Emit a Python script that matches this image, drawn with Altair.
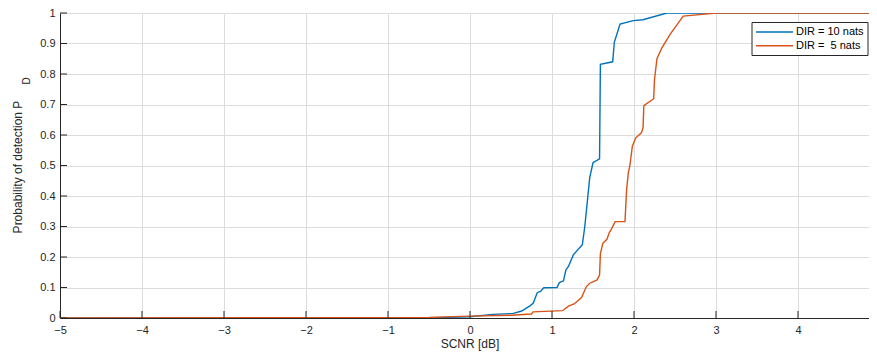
import altair as alt
import pandas as pd

# ---- data ----
blue_x = [-5, -0.6, -0.3, 0, 0.28, 0.53, 0.63, 0.73, 0.77, 0.82, 0.86, 0.90, 1.06, 1.09, 1.14,
          1.17, 1.20, 1.26, 1.37, 1.40, 1.46, 1.50, 1.58, 1.59, 1.74, 1.76, 1.83, 1.99, 2.11,
          2.40, 4.95]
blue_y = [0, 0, 0.002, 0.004, 0.012, 0.015, 0.023, 0.04, 0.048, 0.083, 0.087, 0.099, 0.10, 0.116,
          0.122, 0.158, 0.169, 0.207, 0.24, 0.30, 0.46, 0.509, 0.522, 0.832, 0.84, 0.904, 0.964,
          0.975, 0.978, 1.0, 1.0]

red_x = [-5, -0.5, 0, 0.5, 0.75, 0.77, 1.13, 1.20, 1.27, 1.36, 1.42, 1.46, 1.55, 1.58, 1.59,
         1.62, 1.67, 1.70, 1.72, 1.77, 1.89, 1.91, 1.93, 1.95, 1.98, 2.02, 2.09, 2.11, 2.12,
         2.24, 2.25, 2.28, 2.34, 2.44, 2.60, 2.97, 3.0, 4.95]
red_y = [0, 0.002, 0.006, 0.009, 0.013, 0.02, 0.024, 0.039, 0.046, 0.067, 0.103, 0.114, 0.125,
         0.141, 0.21, 0.245, 0.258, 0.281, 0.289, 0.316, 0.316, 0.42, 0.475, 0.50, 0.563, 0.59,
         0.607, 0.623, 0.696, 0.719, 0.782, 0.85, 0.886, 0.93, 0.99, 0.999, 1.0, 1.0]

x_ticks = [-5, -4, -3, -2, -1, 0, 1, 2, 3, 4]
y_ticks = [0, 0.1, 0.2, 0.3, 0.4, 0.5, 0.6, 0.7, 0.8, 0.9, 1.0]
series_names = ["DIR = 10 nats", "DIR =  5 nats"]
series_colors = ["#0072BD", "#D95319"]

PX_PER_UNIT = 82
W, H = 809, 305
X_MAX = -5 + W / PX_PER_UNIT
FONT = "Liberation Sans"
TXT = "#262626"

blue = pd.DataFrame({"x": blue_x, "y": blue_y})
red = pd.DataFrame({"x": red_x, "y": red_y})

xs = alt.Scale(domain=[-5, X_MAX], nice=False, zero=False)
ys = alt.Scale(domain=[0, 1], nice=False)

xaxis = alt.Axis(values=x_ticks, format="d", title=None, grid=True, ticks=False,
                 labelPadding=6, labelFontSize=11, labelFont=FONT, labelColor=TXT,
                 domainColor=TXT, gridColor="#dcdcdc", labelFlush=False, labelOverlap=False)
yaxis = alt.Axis(values=y_ticks, format="~g", title=None, grid=True, ticks=False,
                 labelPadding=5, labelFontSize=11, labelFont=FONT, labelColor=TXT,
                 domainColor=TXT, gridColor="#dcdcdc", labelFlush=False, labelOverlap=False)


def X(field):
    return alt.X(field, type="quantitative", scale=xs, axis=xaxis)


def Y(field):
    return alt.Y(field, type="quantitative", scale=ys, axis=yaxis)


xt = alt.Chart(pd.DataFrame({"t": x_ticks})).mark_rule(color=TXT, strokeWidth=1).encode(
    x=X("t"), y=alt.value(H), y2=alt.value(H - 7))
yt = alt.Chart(pd.DataFrame({"t": y_ticks})).mark_rule(color=TXT, strokeWidth=1).encode(
    y=Y("t"), x=alt.value(0), x2=alt.value(7))

line_blue = alt.Chart(blue).mark_line(color=series_colors[0], strokeWidth=1.4, clip=True).encode(
    x=X("x"), y=Y("y"))
line_red = alt.Chart(red).mark_line(color=series_colors[1], strokeWidth=1.4, clip=True).encode(
    x=X("x"), y=Y("y"))

one = pd.DataFrame({"a": [0]})


def keep_spaces(s):
    return s.replace("  ", " \u00a0")


# legend box
LX = 692
leg_box = alt.Chart(one).mark_rect(fill="white", stroke="#262626", strokeWidth=1).encode(
    x=alt.value(LX), x2=alt.value(LX + 116), y=alt.value(9.5), y2=alt.value(42.5))
leg_l1 = alt.Chart(one).mark_rule(color=series_colors[0], strokeWidth=1.4).encode(
    x=alt.value(LX + 4), x2=alt.value(LX + 41), y=alt.value(19))
leg_l2 = alt.Chart(one).mark_rule(color=series_colors[1], strokeWidth=1.4).encode(
    x=alt.value(LX + 4), x2=alt.value(LX + 41), y=alt.value(32.7))
leg_t1 = alt.Chart(one).mark_text(text=keep_spaces(series_names[0]), align="left",
                                  baseline="middle", font=FONT, fontSize=11, color="black").encode(
    x=alt.value(LX + 44), y=alt.value(19))
leg_t2 = alt.Chart(one).mark_text(text=keep_spaces(series_names[1]), align="left",
                                  baseline="middle", font=FONT, fontSize=11, color="black").encode(
    x=alt.value(LX + 44), y=alt.value(32.7))

# axis titles
xtitle = alt.Chart(one).mark_text(text="SCNR [dB]", align="center", baseline="middle",
                                  font=FONT, fontSize=12, color=TXT).encode(
    x=alt.value(410), y=alt.value(331))
ytitle = alt.Chart(one).mark_text(text="Probability of detection P", align="center",
                                  baseline="alphabetic", angle=270,
                                  font=FONT, fontSize=12, color=TXT).encode(
    x=alt.value(-38), y=alt.value(154))
ysub = alt.Chart(one).mark_text(text="D", align="center", baseline="alphabetic", angle=270,
                                font=FONT, fontSize=10, color=TXT).encode(
    x=alt.value(-30), y=alt.value(68))

chart = alt.layer(
    line_blue, line_red, xt, yt,
    leg_box, leg_l1, leg_l2, leg_t1, leg_t2, xtitle, ytitle, ysub
).properties(
    width=W, height=H,
    autosize=alt.AutoSizeParams(type="none"),
    padding={"left": 52, "top": 5, "right": 0, "bottom": 34},
    background="white",
).configure_view(stroke=None)

chart.save("out.html", embed_options={"renderer": "svg", "actions": False})
